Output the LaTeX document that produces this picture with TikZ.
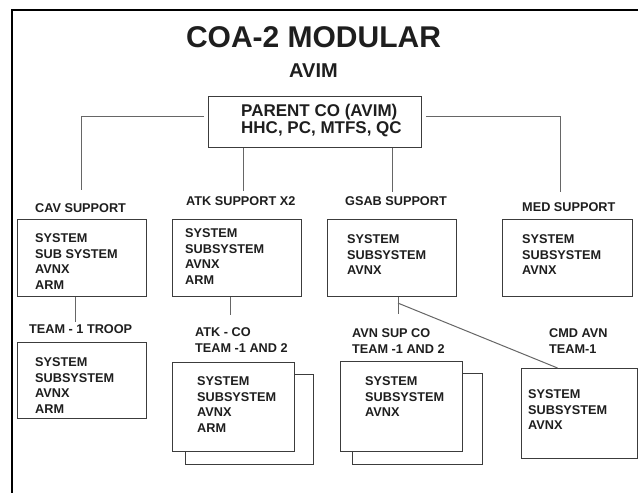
\documentclass[tikz,border=0pt]{standalone}
\usepackage{fontspec}
\setmainfont{Liberation Sans}
\usetikzlibrary{calc}
\definecolor{ink}{HTML}{1E1E1E}
\definecolor{boxline}{HTML}{3C3C3C}
\definecolor{wire}{HTML}{666666}
\tikzset{
  unit/.style={draw=boxline, line width=1.1pt, fill=white, inner sep=0pt, anchor=north west},
  conn/.style={draw=wire, line width=1pt},
  tag/.style={inner sep=0pt, anchor=north west, align=left, text=ink,
    font=\fontsize{12.7pt}{15.4pt}\selectfont\bfseries},
  big/.style={inner sep=0pt, anchor=base, text=ink},
}
\newcommand{\unitbox}[5]{% name, x1, y1, x2, y2
  \node[unit, minimum width=#4pt-#2pt, minimum height=#5pt-#3pt] (#1) at (#2,#3) {};}
\begin{document}
\begin{tikzpicture}[x=1pt,y=-1pt]
\useasboundingbox (0,0) rectangle (638,493);
\fill[white] (0,0) rectangle (638,493);

% outer frame (left and top edges)
\draw[line width=2pt, black] (11.5,493) -- (11.5,10) -- (638,10);

% headings
\node[big, font=\fontsize{30pt}{36pt}\selectfont\bfseries] (title) at (313.5,47) {COA-2 MODULAR};
\node[big, font=\fontsize{20pt}{24pt}\selectfont\bfseries] (sub) at (313.5,77) {AVIM};

% parent company
\unitbox{parent}{208}{96}{421}{147}
\node[tag, font=\fontsize{17pt}{17.6pt}\selectfont\bfseries] (parenttxt) at (241,103.8)
  {PARENT CO (AVIM)\\HHC, PC, MTFS, QC};

% first row of support elements
\unitbox{cav}{17}{219}{146}{296}
\unitbox{atk}{172}{219}{301}{296}
\unitbox{gsab}{327}{219}{456}{296}
\unitbox{med}{502}{219}{632}{296}

\node[tag] (cavlbl) at (35,203.9) {CAV SUPPORT};
\node[tag] (atklbl) at (186,196.9) {ATK SUPPORT X2};
\node[tag] (gsablbl) at (345,196.9) {GSAB SUPPORT};
\node[tag] (medlbl) at (522,202.9) {MED SUPPORT};

\node[tag] (cavtxt) at (35,233.9) {SYSTEM\\SUB SYSTEM\\AVNX\\ARM};
\node[tag] (atktxt) at (185,228.9) {SYSTEM\\SUBSYSTEM\\AVNX\\ARM};
\node[tag] (gsabtxt) at (347,234.9) {SYSTEM\\SUBSYSTEM\\AVNX};
\node[tag] (medtxt) at (522,234.9) {SYSTEM\\SUBSYSTEM\\AVNX};

% second row of teams (stacked boxes for paired teams)
\unitbox{troop}{17}{342}{146}{418}
\unitbox{atkcoback}{185}{374}{313}{464}
\unitbox{atkco}{172}{362}{294}{451}
\unitbox{avnback}{352}{373}{482}{464}
\unitbox{avn}{340}{361}{462}{451}
\unitbox{cmd}{521}{368}{637}{458}

\node[tag] (trooplbl) at (29,324.9) {TEAM - 1 TROOP};
\node[tag] (atkcolbl) at (195,327.9) {ATK - CO\\TEAM -1 AND 2};
\node[tag] (avnlbl) at (352,328.9) {AVN SUP CO\\TEAM -1 AND 2};
\node[tag] (cmdlbl) at (549,328.9) {CMD AVN\\TEAM-1};

\node[tag] (trooptxt) at (35,357.9) {SYSTEM\\SUBSYSTEM\\AVNX\\ARM};
\node[tag] (atkcotxt) at (197,376.9) {SYSTEM\\SUBSYSTEM\\AVNX\\ARM};
\node[tag] (avntxt) at (365,376.9) {SYSTEM\\SUBSYSTEM\\AVNX};
\node[tag] (cmdtxt) at (528,389.9) {SYSTEM\\SUBSYSTEM\\AVNX};

% free ends of the connectors
\coordinate (cavend) at (81,190);
\coordinate (atkend) at (243,191);
\coordinate (gsabend) at (392,192);
\coordinate (medend) at (560,192);
\coordinate (troopend) at (75,322);
\coordinate (atkcoend) at (230,315);
\coordinate (avnend) at (398,314);

% connectors from the parent company
\draw[conn] ([xshift=-4pt,yshift=5.5pt]parent.west) -| (cavend);
\draw[conn] ([xshift=4pt,yshift=5.5pt]parent.east) -| (medend);
\draw[conn] (parent.south -| atkend) -- (atkend);
\draw[conn] (parent.south -| gsabend) -- (gsabend);

% connectors down to the teams
\draw[conn] (cav.south -| troopend) -- (troopend);
\draw[conn] (atk.south -| atkcoend) -- (atkcoend);
\draw[conn] (gsab.south -| avnend) -- (avnend);
\draw[conn] ($(gsab.south -| avnend)+(0,6)$) -- ([xshift=-22pt]cmd.north);
\end{tikzpicture}
\end{document}
